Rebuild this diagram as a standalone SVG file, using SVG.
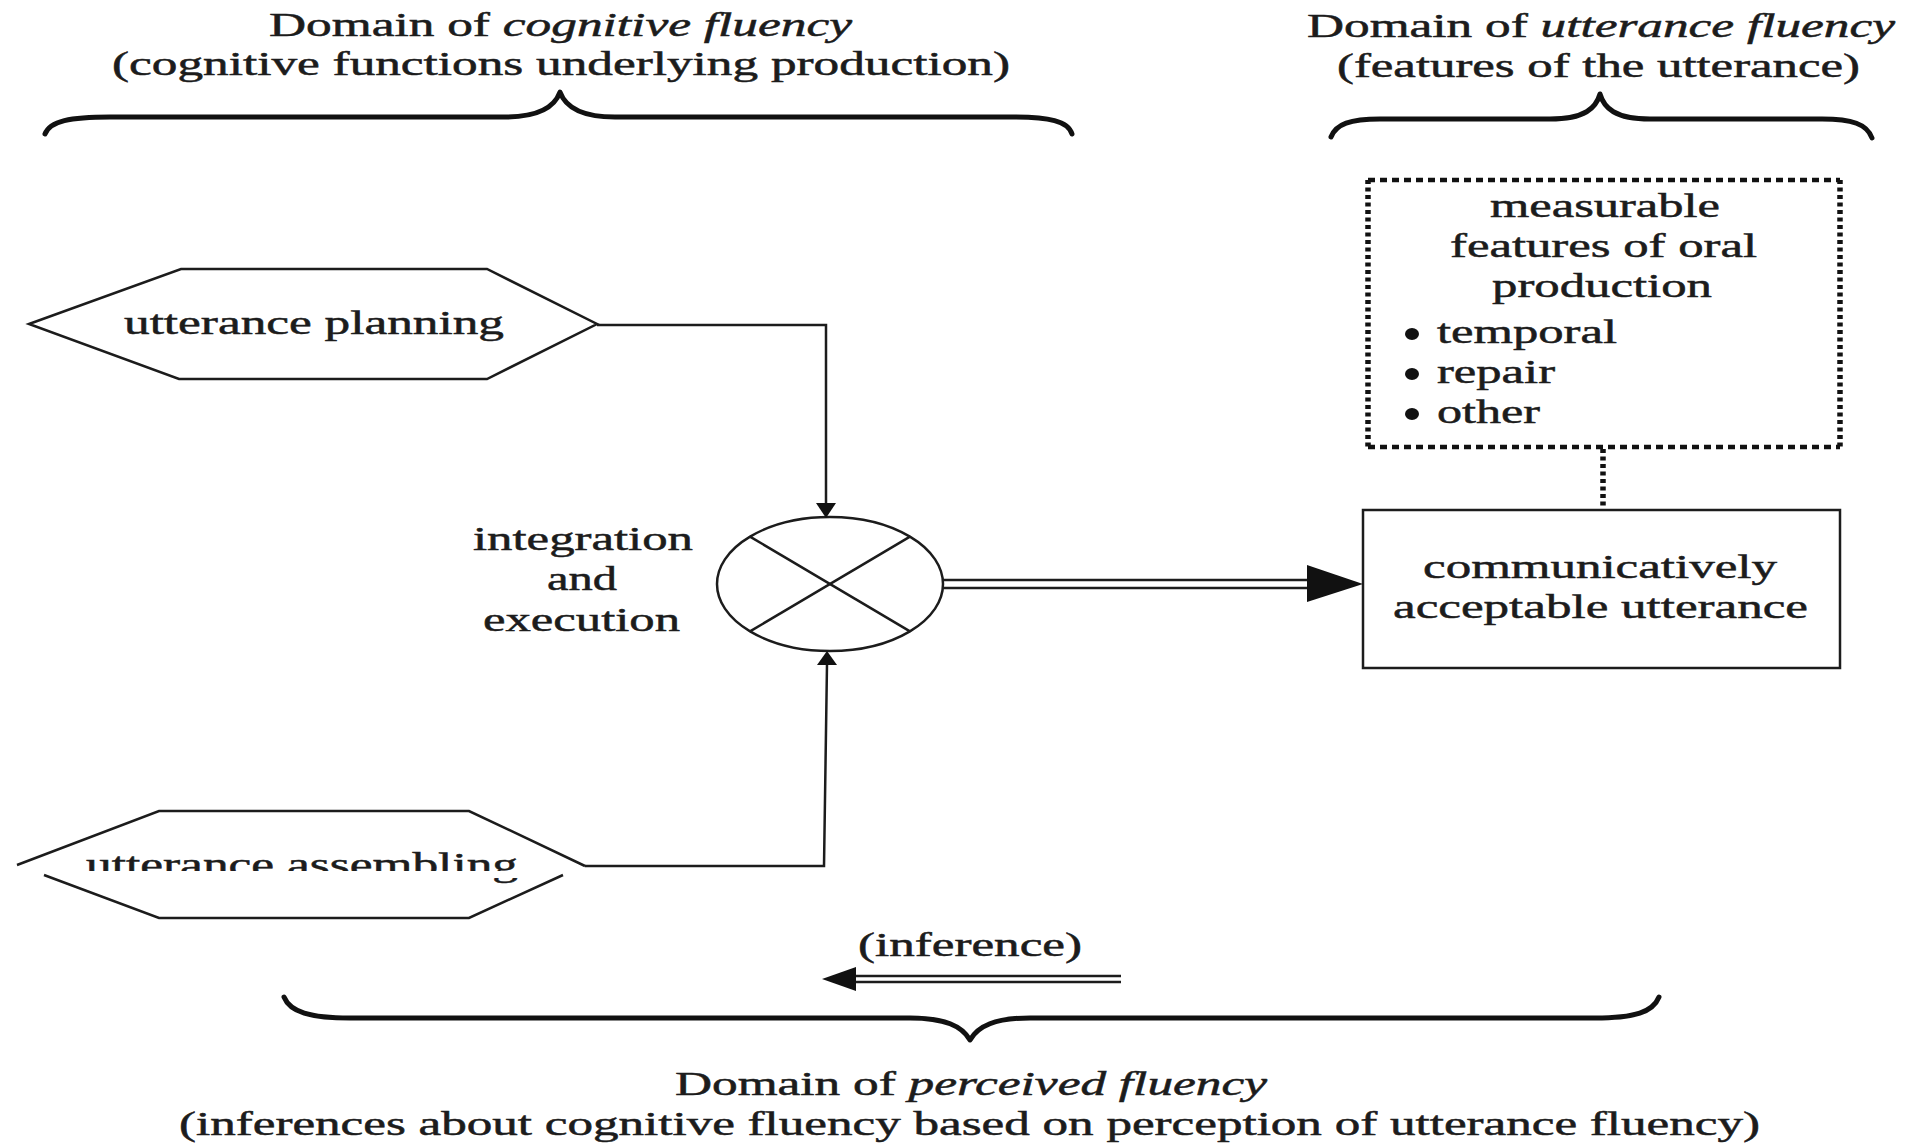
<svg xmlns="http://www.w3.org/2000/svg" width="1919" height="1144" viewBox="0 0 1919 1144">
  <style>
    text { font-family: "Liberation Serif", "Times New Roman", serif; fill: #1c1c1c; stroke: #1c1c1c; stroke-width: 0.5; }
    .title { font-size: 33px; }
    .node { font-size: 34px; }
    .edge { fill: none; stroke: #1c1c1c; stroke-width: 2.5; }
    .shape { fill: #ffffff; stroke: #1c1c1c; stroke-width: 2.5; stroke-linejoin: miter; }
    .outline { fill: none; stroke: #1c1c1c; stroke-width: 2.5; stroke-linejoin: miter; }
    .brace { fill: none; stroke: #111; stroke-width: 5; stroke-linecap: round; stroke-linejoin: round; }
    .dotH { fill: none; stroke: #111; stroke-width: 4.5; stroke-dasharray: 7 5; }
    .dotV { fill: none; stroke: #111; stroke-width: 5.5; stroke-dasharray: 4 3.5; }
    .head { fill: #111; stroke: none; }
  </style>
  <defs>
    <!-- a thin horizontal strip of the label is left blank -->
    <clipPath id="assembleClip">
      <path clip-rule="evenodd" d="M0,780 H640 V960 H0 Z M20,871 H580 V878 H20 Z"/>
    </clipPath>
  </defs>

  <rect width="1919" height="1144" fill="#ffffff"/>

  <!-- domain headings and braces -->
  <g id="domain-cognitive">
    <text class="title" x="269" y="36" textLength="583" lengthAdjust="spacingAndGlyphs">Domain of <tspan font-style="italic">cognitive fluency</tspan></text>
    <text class="title" x="112" y="75" textLength="898" lengthAdjust="spacingAndGlyphs">(cognitive functions underlying production)</text>
    <path class="brace" d="M45,134 C50,121 70,117 110,117 L505,117 C540,117 555,106 560,92 C565,106 580,117 615,117 L1010,117 C1050,117 1068,121 1072,134"/>
  </g>

  <g id="domain-utterance">
    <text class="title" x="1307" y="37" textLength="588" lengthAdjust="spacingAndGlyphs">Domain of <tspan font-style="italic">utterance fluency</tspan></text>
    <text class="title" x="1337" y="77" textLength="523" lengthAdjust="spacingAndGlyphs">(features of the utterance)</text>
    <path class="brace" d="M1331,137 C1336,124 1350,119 1380,119 L1550,119 C1585,119 1596,108 1600,94 C1604,108 1615,119 1650,119 L1822,119 C1852,119 1867,124 1872,138"/>
  </g>

  <g id="domain-perceived">
    <path class="brace" d="M284,997 C290,1012 310,1018 350,1018 L910,1018 C945,1018 962,1026 970,1040 C978,1026 995,1018 1030,1018 L1595,1018 C1635,1018 1653,1012 1659,997"/>
    <text class="title" x="675" y="1095" textLength="592" lengthAdjust="spacingAndGlyphs">Domain of <tspan font-style="italic">perceived fluency</tspan></text>
    <text class="title" x="179" y="1135" textLength="1581" lengthAdjust="spacingAndGlyphs">(inferences about cognitive fluency based on perception of utterance fluency)</text>
  </g>

  <g id="inference">
    <text class="title" x="858" y="956" textLength="224" lengthAdjust="spacingAndGlyphs">(inference)</text>
    <line class="edge" x1="850" y1="976" x2="1121" y2="976"/>
    <line class="edge" x1="850" y1="982" x2="1121" y2="982"/>
    <polygon class="head" points="822,979 856,967 856,991"/>
  </g>

  <!-- nodes -->
  <g id="utterance-planning">
    <polygon class="shape" points="29,324 181,269 487,269 597,324 487,379 179,379"/>
    <text class="node" x="124" y="334" textLength="380" lengthAdjust="spacingAndGlyphs">utterance planning</text>
  </g>

  <g id="utterance-assembling">
    <polyline class="outline" points="17,865 159,811 469,811 585,866"/>
    <polyline class="outline" points="44,875 159,918 469,918 563,875"/>
    <text class="node" x="86" y="876" textLength="432" lengthAdjust="spacingAndGlyphs" clip-path="url(#assembleClip)">utterance assembling</text>
  </g>

  <g id="integration">
    <ellipse class="shape" cx="830" cy="584" rx="113" ry="67"/>
    <line class="edge" x1="750" y1="536.6" x2="910" y2="631.4"/>
    <line class="edge" x1="910" y1="536.6" x2="750" y2="631.4"/>
    <text class="node" x="473" y="550" textLength="220" lengthAdjust="spacingAndGlyphs">integration</text>
    <text class="node" x="547" y="590" textLength="70" lengthAdjust="spacingAndGlyphs">and</text>
    <text class="node" x="483" y="631" textLength="197" lengthAdjust="spacingAndGlyphs">execution</text>
  </g>

  <g id="measurable-features">
    <line class="dotH" x1="1368" y1="180" x2="1840" y2="180"/>
    <line class="dotH" x1="1368" y1="447" x2="1840" y2="447"/>
    <line class="dotV" x1="1368" y1="180" x2="1368" y2="447"/>
    <line class="dotV" x1="1840" y1="180" x2="1840" y2="447"/>
    <text class="node" x="1490" y="217" textLength="230" lengthAdjust="spacingAndGlyphs">measurable</text>
    <text class="node" x="1450" y="257" textLength="307" lengthAdjust="spacingAndGlyphs">features of oral</text>
    <text class="node" x="1492" y="297" textLength="220" lengthAdjust="spacingAndGlyphs">production</text>
    <ellipse class="head" cx="1412" cy="334" rx="7" ry="6"/>
    <ellipse class="head" cx="1412" cy="374" rx="7" ry="6"/>
    <ellipse class="head" cx="1412" cy="414" rx="7" ry="6"/>
    <text class="node" x="1437" y="343" textLength="180" lengthAdjust="spacingAndGlyphs">temporal</text>
    <text class="node" x="1437" y="383" textLength="118" lengthAdjust="spacingAndGlyphs">repair</text>
    <text class="node" x="1437" y="423" textLength="103" lengthAdjust="spacingAndGlyphs">other</text>
  </g>

  <g id="acceptable-utterance">
    <rect class="shape" x="1363" y="510" width="477" height="158"/>
    <text class="node" x="1423" y="578" textLength="354" lengthAdjust="spacingAndGlyphs">communicatively</text>
    <text class="node" x="1393" y="618" textLength="415" lengthAdjust="spacingAndGlyphs">acceptable utterance</text>
  </g>

  <!-- connectors -->
  <g id="connectors">
    <polyline class="edge" points="597,325 826,325 826,504"/>
    <polygon class="head" points="816,503 836,503 826,518"/>
    <polyline class="edge" points="585,866 824,866 827,664"/>
    <polygon class="head" points="817,665 837,665 827,651"/>
    <line class="edge" x1="943" y1="580" x2="1312" y2="580"/>
    <line class="edge" x1="943" y1="588" x2="1312" y2="588"/>
    <polygon class="head" points="1307,565 1363,584 1307,602"/>
    <line class="dotV" x1="1603" y1="449" x2="1603" y2="508"/>
  </g>
</svg>
